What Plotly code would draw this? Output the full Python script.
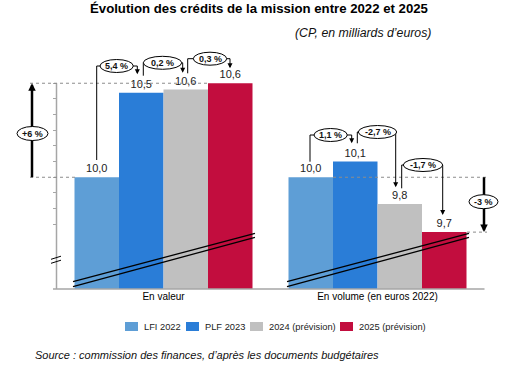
import plotly.graph_objects as go

# ---------------- data ----------------
categories = ["En valeur", "En volume (en euros 2022)"]
series_names = ["LFI 2022", "PLF 2023", "2024 (prévision)", "2025 (prévision)"]
series_colors = ["#5E9ED6", "#2A7DD7", "#C0C0C0", "#C20D3E"]
lfi_2022 = [10.0, 10.0]
plf_2023 = [10.54, 10.1]
prev_2024 = [10.56, 9.83]
prev_2025 = [10.6, 9.65]
labels_lfi_2022 = ["10,0", "10,0"]
labels_plf_2023 = ["10,5", "10,1"]
labels_2024 = ["10,6", "9,8"]
labels_2025 = ["10,6", "9,7"]
y_tick_values = [9.7, 9.8, 9.9, 10.0, 10.1, 10.2, 10.3, 10.4, 10.5, 10.6]
step_changes_valeur = ["5,4 %", "0,2 %", "0,3 %"]
step_changes_volume = ["1,1 %", "-2,7 %", "-1,7 %"]
total_changes = ["+6 %", "-3 %"]

title_text = "Évolution des crédits de la mission entre 2022 et 2025"
subtitle_text = "(CP, en milliards d’euros)"
source_text = "Source : commission des finances, d’après les documents budgétaires"

# ---------------- geometry (layout only) ----------------
FONT = "Liberation Sans, Arial, sans-serif"
WIDTH, HEIGHT = 509, 372
L, R, T, B = 14, 9, 45, 83
W = WIDTH - L - R
H = HEIGHT - T - B
Y0, Y1 = 9.287, 10.844
C0, S = 163.5, 214.0  # pixel centre of first category, pixels per category
x_range = [(L - C0) / S, (L + W - C0) / S]


def PX(x):
    return (x - L) / W


def PY(y):
    return (T + H - y) / H


def vpy(v):
    return T + (Y1 - v) / (Y1 - Y0) * H


shapes = []
annotations = []


def line(x0, y0, x1, y1, color="black", width=1, dash="solid"):
    shapes.append(dict(type="line", xref="paper", yref="paper",
                       x0=PX(x0), y0=PY(y0), x1=PX(x1), y1=PY(y1),
                       line=dict(color=color, width=width, dash=dash), layer="above"))


def ellipse(x0, x1, yc, h=12, label=""):
    shapes.append(dict(type="circle", xref="paper", yref="paper",
                       x0=PX(x0), x1=PX(x1), y0=PY(yc - h / 2), y1=PY(yc + h / 2),
                       fillcolor="white", line=dict(color="black", width=1), layer="above"))
    annotations.append(dict(xref="paper", yref="paper", x=PX((x0 + x1) / 2), y=PY(yc),
                            text="<b>" + label + "</b>", showarrow=False,
                            font=dict(size=9, color="#111", family=FONT),
                            xanchor="center", yanchor="middle"))


def head(x, ytip, tail, width=1, size=1):
    annotations.append(dict(xref="paper", yref="paper", x=PX(x), y=PY(ytip),
                            ax=0, ay=tail, axref="pixel", ayref="pixel", text="",
                            showarrow=True, arrowhead=2, arrowsize=size, arrowwidth=width,
                            arrowcolor="black", standoff=0))


# ---------------- figure ----------------
fig = go.Figure()
series_values = [lfi_2022, plf_2023, prev_2024, prev_2025]
series_labels = [labels_lfi_2022, labels_plf_2023, labels_2024, labels_2025]
for name, color, vals, labs in zip(series_names, series_colors, series_values, series_labels):
    fig.add_trace(go.Bar(
        name=name, x=categories, y=vals, marker=dict(color=color, line=dict(width=0)),
        text=labs, textposition="outside", cliponaxis=False, showlegend=False,
        textfont=dict(size=11, color="#222", family=FONT),
    ))

# axis line, baseline and axis break
line(56.5, vpy(10.6), 56.5, T + H, color="#A6A6A6", width=1.5)
line(53, T + H, 484.5, T + H, color="#A6A6A6", width=1.5)
line(51, 259.3, 61, 256.2, width=1)
line(51, 263.3, 61, 260.2, width=1)

# break lines across the bars
for dx in (0, S):
    line(73 + dx, 281.7, 255 + dx, 233.3, width=1.2)
    line(73 + dx, 286.7, 255 + dx, 237.3, width=1.2)

# dotted reference lines
line(30, vpy(prev_2025[0]), 208, vpy(prev_2025[0]), color="#8C8C8C", dash="dot")
line(30, vpy(lfi_2022[0]), 75, vpy(lfi_2022[0]), color="#8C8C8C", dash="dot")
line(333, vpy(lfi_2022[1]), 487, vpy(lfi_2022[1]), color="#8C8C8C", dash="dot")
line(467, vpy(prev_2025[1]), 487, vpy(prev_2025[1]), color="#8C8C8C", dash="dot")

# big total arrows
line(32, vpy(lfi_2022[0]), 32, vpy(prev_2025[0]) + 5, width=2.5)
head(32, vpy(prev_2025[0]), 9, width=2.5, size=0.6)
ellipse(17, 48, 133.5, h=14, label=total_changes[0])
line(484, vpy(lfi_2022[1]), 484, vpy(prev_2025[1]) - 5, width=2.5)
head(484, vpy(prev_2025[1]), -9, width=2.5, size=0.6)
ellipse(469, 498, 201.7, h=14, label=total_changes[1])

# step callouts
callouts = [
    (96.7, 160.0, 100.0, 133.3, 66.0, 137.3, 74.3),
    (143.3, 75.7, 143.3, 181.7, 62.8, 182.7, 72.7),
    (187.7, 73.3, 193.3, 226.7, 58.7, 230.0, 68.3),
    (310.0, 161.7, 314.0, 347.3, 135.0, 351.7, 143.3),
    (357.3, 143.3, 358.3, 396.7, 132.0, 395.7, 187.3),
    (401.7, 188.3, 403.3, 442.7, 165.0, 442.7, 215.0),
]
for (xl, ys, ex0, ex1, yc, xr, ytip), lab in zip(callouts, step_changes_valeur + step_changes_volume):
    line(xl, ys, xl, yc)
    line(xl, yc, ex0 + 2, yc)
    line(ex1 - 2, yc, xr, yc)
    line(xr, yc, xr, ytip - 3)
    head(xr, ytip, -5)
    ellipse(ex0, ex1, yc, h=13, label=lab)

# legend (swatch + name for each series)
legend_x = [125, 186, 250, 340]
for lx, name, color in zip(legend_x, series_names, series_colors):
    shapes.append(dict(type="rect", xref="paper", yref="paper",
                       x0=PX(lx), x1=PX(lx + 13), y0=PY(331), y1=PY(322),
                       fillcolor=color, line=dict(width=0), layer="above"))
    annotations.append(dict(xref="paper", yref="paper", x=PX(lx + 17), y=PY(326.5), text=name,
                            showarrow=False, xanchor="left", yanchor="middle",
                            font=dict(size=9.3, color="#222", family=FONT)))

# texts
annotations.append(dict(xref="paper", yref="paper", x=PX(258.5), y=PY(8.5), text="<b>" + title_text + "</b>",
                        showarrow=False, xanchor="center", yanchor="middle",
                        font=dict(size=13.2, color="black", family=FONT)))
annotations.append(dict(xref="paper", yref="paper", x=PX(433), y=PY(33), text="<i>" + subtitle_text + "</i>",
                        showarrow=False, xanchor="right", yanchor="middle",
                        font=dict(size=12.3, color="#111", family=FONT)))
annotations.append(dict(xref="paper", yref="paper", x=PX(33), y=PY(355), text="<i>" + source_text + "</i>",
                        showarrow=False, xanchor="left", yanchor="middle",
                        font=dict(size=11, color="#111", family=FONT)))

fig.update_layout(
    width=WIDTH, height=HEIGHT,
    margin=dict(l=L, r=R, t=T, b=B, pad=0),
    paper_bgcolor="white", plot_bgcolor="white",
    barmode="group", bargap=1 - 178 / 214, bargroupgap=0,
    font=dict(family=FONT, size=10, color="black"),
    xaxis=dict(range=x_range, showline=False, showgrid=False, zeroline=False, ticks="",
               tickfont=dict(size=10, color="black", family=FONT), fixedrange=True),
    yaxis=dict(range=[Y0, Y1], anchor="free", position=PX(56.5), showline=False, showgrid=False,
               zeroline=False, ticks="outside", ticklen=4, tickwidth=1, tickcolor="#A6A6A6",
               tickvals=y_tick_values, showticklabels=False, fixedrange=True),
    showlegend=False,
    shapes=shapes, annotations=annotations,
)

fig.write_html("out.html", config={"displayModeBar": False},
               post_script="document.body.style.margin='0';document.body.style.padding='0';")
